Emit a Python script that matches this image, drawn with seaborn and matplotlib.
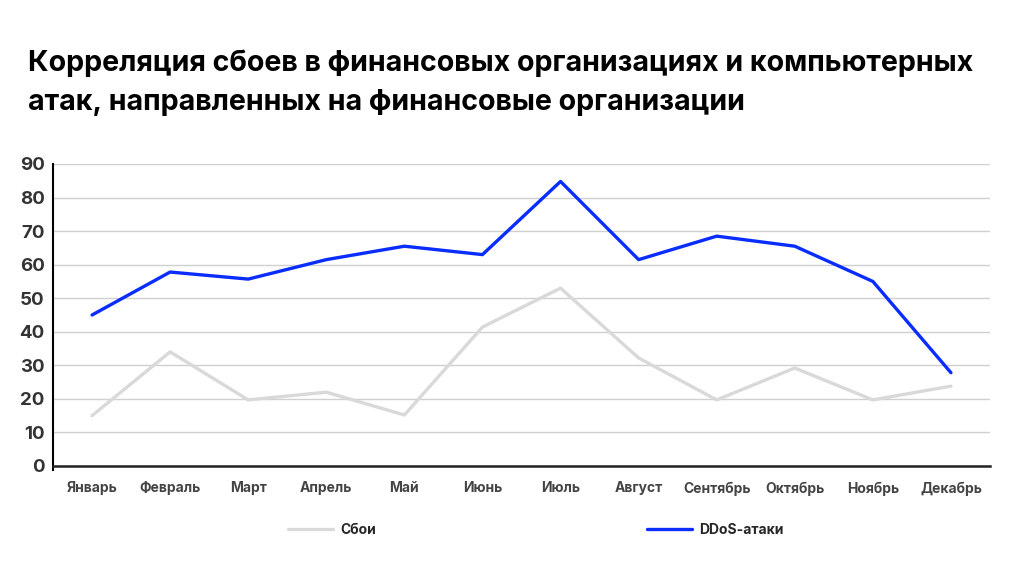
import numpy as np
import pandas as pd
import matplotlib
matplotlib.use("Agg")
import matplotlib.pyplot as plt
import seaborn as sns

months = ["Январь", "Февраль", "Март", "Апрель", "Май", "Июнь",
          "Июль", "Август", "Сентябрь", "Октябрь", "Ноябрь", "Декабрь"]
failures = [15, 34, 19.7, 22, 15.2, 41.4, 53, 32.2, 19.7, 29.2, 19.7, 23.8]
ddos = [45, 57.8, 55.7, 61.5, 65.5, 63, 84.8, 61.5, 68.5, 65.5, 55, 27.8]
series_names = ["Сбои", "DDoS-атаки"]
colors = ["#d9d9d9", "#0a2dff"]

sns.set_theme(style="white")
plt.rcParams['font.family'] = ['Inter', 'DejaVu Sans']

df = pd.DataFrame({
    "month": months * 2,
    "x": list(range(len(months))) * 2,
    "value": failures + ddos,
    "series": [series_names[0]] * len(months) + [series_names[1]] * len(months),
})

fig = plt.figure(figsize=(10.24, 5.76), dpi=100, facecolor='white')
ax = fig.add_axes([53/1024, 1 - 466/576, (990 - 53)/1024, (466 - 164)/576])

sns.lineplot(data=df, x="x", y="value", hue="series", palette=colors,
             linewidth=2.4, ax=ax, legend=False)

ax.set_xlim(-0.5, len(months) - 0.5)
ax.set_ylim(0, 90)
ax.set_yticks(range(0, 91, 10))
ax.set_xticks(range(len(months)))
ax.set_xticklabels(months)
ax.set_xticks(np.arange(-0.5, len(months), 1), minor=True)
ax.tick_params(axis='x', which='major', length=0, pad=11, labelsize=10, labelcolor='#444444')
ax.tick_params(axis='x', which='minor', length=4, width=1.2, color='black', direction='out')
ax.tick_params(axis='y', length=0, pad=6, labelsize=13.5, labelcolor='#333333')
for lab in ax.get_xticklabels() + ax.get_yticklabels():
    lab.set_fontweight('bold')

ax.yaxis.grid(True, color='#d0d0d0', linewidth=1)
ax.set_axisbelow(True)
ax.set_xlabel("")
ax.set_ylabel("")
for s in ['top', 'right']:
    ax.spines[s].set_visible(False)
ax.spines['left'].set_color('black')
ax.spines['left'].set_linewidth(1.5)
ax.spines['left'].set_bounds(-1.2, 90)
ax.spines['bottom'].set_color('#222222')
ax.spines['bottom'].set_linewidth(1.8)

handles = [plt.Line2D([0], [0], color=c, lw=2.4) for c in colors]
leg = fig.legend(handles, series_names, loc='center', bbox_to_anchor=(536/1024, 1 - 530/576),
                 ncol=2, frameon=False, columnspacing=19.5, handlelength=3.2,
                 handletextpad=0.55, prop={'weight': 'bold', 'size': 10})

fig.text(28/1024, 1 - 63/576,
         "Корреляция сбоев в финансовых организациях и компьютерных",
         fontsize=20.6, fontweight='bold', color='black', va='center', ha='left')
fig.text(28/1024, 1 - 102/576,
         "атак, направленных на финансовые организации",
         fontsize=20.6, fontweight='bold', color='black', va='center', ha='left')

fig.savefig("out.png", dpi=100, facecolor='white')
